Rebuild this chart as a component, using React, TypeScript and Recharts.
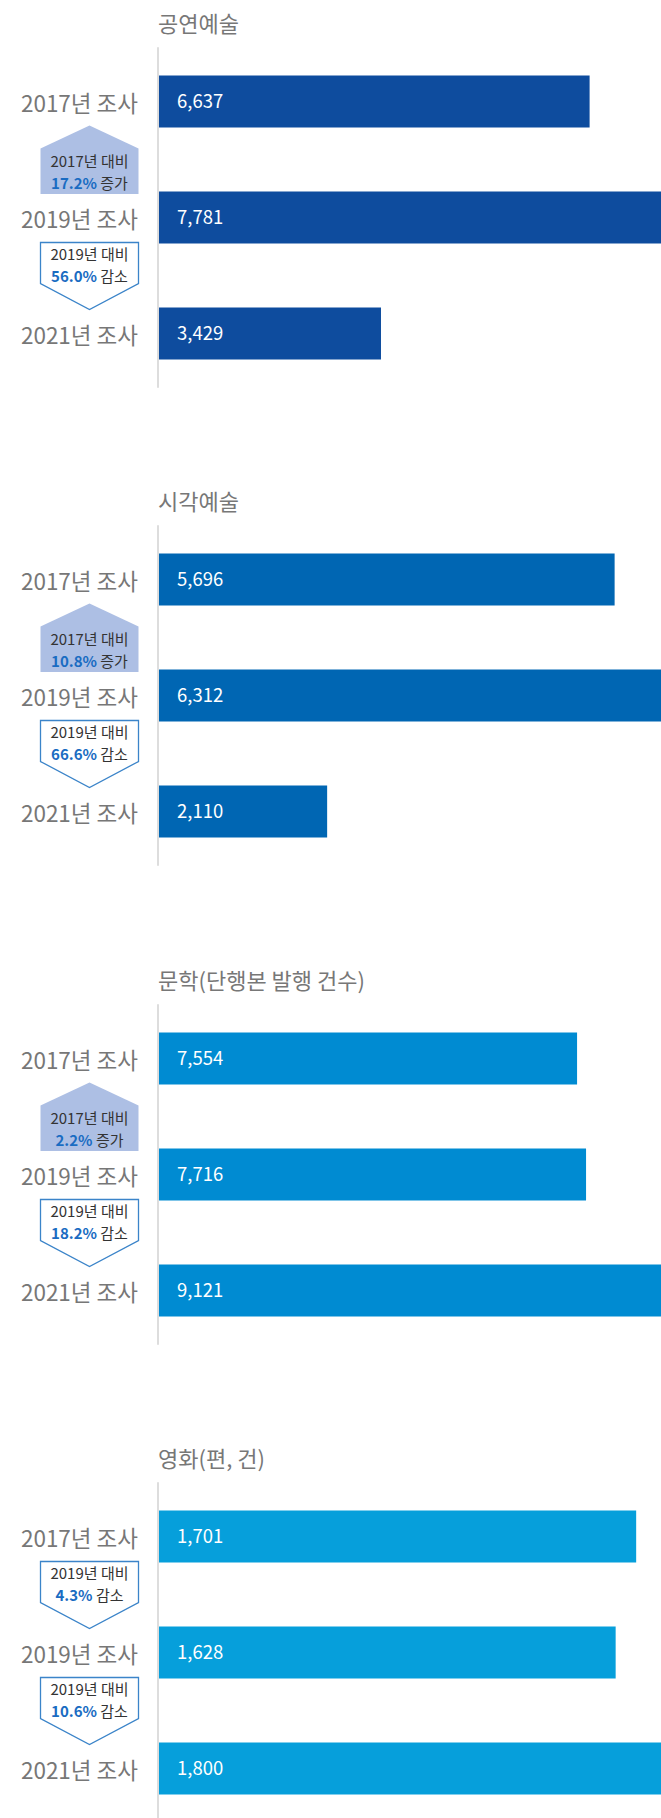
import { Bar, BarChart, LabelList, XAxis, YAxis } from "recharts";

const CATEGORIES = ["2017년 조사", "2019년 조사", "2021년 조사"];
const TITLES = ["공연예술", "시각예술", "문학(단행본 발행 건수)", "영화(편, 건)"];

const PERFORMING = [6637, 7781, 3429];
const VISUAL = [5696, 6312, 2110];
const LITERATURE = [7554, 7716, 9121];
const FILM = [1701, 1628, 1800];

// badges sit between category i and i+1
const BADGE_BASE = [
  ["2017년 대비", "2019년 대비"],
  ["2017년 대비", "2019년 대비"],
  ["2017년 대비", "2019년 대비"],
  ["2019년 대비", "2019년 대비"],
];
const BADGE_PCT = [
  ["17.2%", "56.0%"],
  ["10.8%", "66.6%"],
  ["2.2%", "18.2%"],
  ["4.3%", "10.6%"],
];
const BADGE_DIR = [
  ["증가", "감소"],
  ["증가", "감소"],
  ["증가", "감소"],
  ["감소", "감소"],
];

const SERIES = [PERFORMING, VISUAL, LITERATURE, FILM];
const COLORS = ["#0e4c9e", "#0066b3", "#008bd2", "#069fdb"];

const FONT = "'Noto Sans CJK KR', 'Noto Sans', sans-serif";
const PANEL_STEP = 478.33;
const CHART_W = 664;
const CHART_H = 400;
const AXIS_W = 158;

function Badge({ cx, cy, base, pct, dir }: { cx: number; cy: number; base: string; pct: string; dir: string }) {
  const up = dir === "증가";
  const hw = 49;
  const pts = up
    ? `${cx},${cy - 34} ${cx + hw},${cy - 11} ${cx + hw},${cy + 34.5} ${cx - hw},${cy + 34.5} ${cx - hw},${cy - 11}`
    : `${cx - hw},${cy - 33} ${cx + hw},${cy - 33} ${cx + hw},${cy + 8} ${cx},${cy + 34} ${cx - hw},${cy + 8}`;
  const y1 = up ? cy + 0.5 : cy - 22;
  const y2 = up ? cy + 22 : cy - 0.5;
  return (
    <g>
      <polygon
        points={pts}
        fill={up ? "#adbfe4" : "#fff"}
        stroke={up ? "none" : "#3b84c9"}
        strokeWidth={1.3}
      />
      <text x={cx} y={y1} textAnchor="middle" dominantBaseline="central" fontSize={15} fill="#333" fontFamily={FONT}>
        {base}
      </text>
      <text x={cx} y={y2} textAnchor="middle" dominantBaseline="central" fontSize={15} fill="#333" fontFamily={FONT}>
        <tspan fill="#1a6cc2" fontWeight={700}>{pct}</tspan>
        <tspan> {dir}</tspan>
      </text>
    </g>
  );
}

function makeTick(panel: number) {
  return function CategoryTick(props: any) {
    const { y, payload } = props;
    const idx = CATEGORIES.indexOf(payload.value);
    const half = payload.offset || 58;
    return (
      <g>
        <text x={138} y={y} textAnchor="end" dominantBaseline="central" fontSize={22.5} fill="#777" fontFamily={FONT}>
          {payload.value}
        </text>
        {idx < BADGE_BASE[panel].length && (
          <Badge
            cx={89.5}
            cy={y + half}
            base={BADGE_BASE[panel][idx]}
            pct={BADGE_PCT[panel][idx]}
            dir={BADGE_DIR[panel][idx]}
          />
        )}
      </g>
    );
  };
}

function Panel({ panel }: { panel: number }) {
  const values = SERIES[panel];
  const data = CATEGORIES.map((label, i) => ({ label, value: values[i] }));
  const max = Math.max(...values);
  return (
    <div style={{ position: "absolute", left: 0, top: panel * PANEL_STEP, width: CHART_W, height: CHART_H }}>
      <svg width={CHART_W} height={44} style={{ position: "absolute", left: 0, top: 0 }}>
        <text x={AXIS_W} y={21.7} dominantBaseline="central" fontSize={22} fill="#777" fontFamily={FONT}>
          {TITLES[panel]}
        </text>
      </svg>
      <BarChart
        width={CHART_W}
        height={CHART_H}
        data={data}
        layout="vertical"
        margin={{ top: 43.5, right: 0, bottom: 8.5, left: 0 }}
        style={{ position: "absolute", left: 0, top: 0 }}
      >
        <XAxis type="number" domain={[0, max]} hide />
        <YAxis
          type="category"
          dataKey="label"
          width={AXIS_W}
          tickLine={false}
          axisLine={{ stroke: "#dddddd", strokeWidth: 2, strokeDasharray: "0 3.8 340.4 20" }}
          tick={makeTick(panel)}
          interval={0}
        />
        <Bar dataKey="value" fill={COLORS[panel]} barSize={52} isAnimationActive={false}>
          <LabelList
            dataKey="value"
            position="insideLeft"
            offset={19}
            fill="#fff"
            fontSize={18.5}
            fontFamily={FONT}
            formatter={(v: any) => Number(v).toLocaleString("en-US")}
          />
        </Bar>
      </BarChart>
    </div>
  );
}

export default function App() {
  return (
    <div
      style={{
        position: "absolute",
        left: 0,
        top: 0,
        width: 661,
        height: 1818,
        overflow: "hidden",
        background: "#fff",
        fontFamily: FONT,
      }}
    >
      {TITLES.map((_, i) => (
        <Panel key={i} panel={i} />
      ))}
    </div>
  );
}
